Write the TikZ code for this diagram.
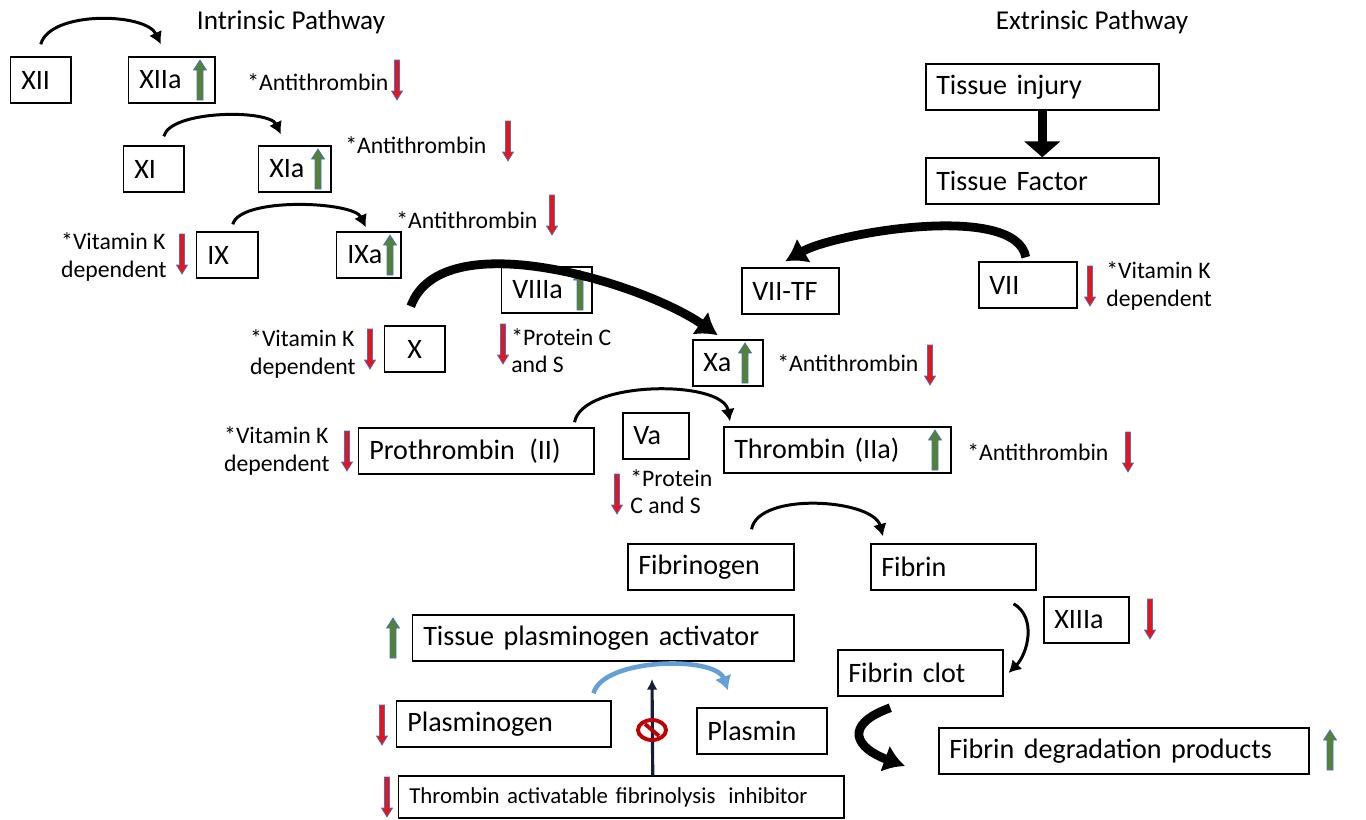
\documentclass[tikz,border=0pt]{standalone}
\usepackage{fontspec}
\setmainfont{Carlito}
\usetikzlibrary{arrows.meta}
\definecolor{markred}{RGB}{232,20,27}
\definecolor{markgreen}{RGB}{84,130,53}
\definecolor{markblue}{RGB}{68,114,196}
\definecolor{plasblue}{RGB}{100,160,215}
\definecolor{navy}{RGB}{20,30,60}
\definecolor{stopred}{RGB}{192,0,0}
\tikzset{
  downmark/.pic={\filldraw[fill=markred,draw=markblue,line width=0.4pt]
    (-2.5,-20)--(2.5,-20)--(2.5,11)--(5.5,11)--(0,20)--(-5.5,11)--(-2.5,11)--cycle;},
  upmark/.pic={\filldraw[fill=markgreen,draw=markblue,line width=0.4pt]
    (-3,20)--(3,20)--(3,-10)--(6.5,-10)--(0,-20)--(-6.5,-10)--(-3,-10)--cycle;}
}
\begin{document}
\begin{tikzpicture}[x=0.02cm,y=-0.02cm,>=latex,
  box/.style={draw,line width=0.85pt,anchor=west,minimum height=0.92cm,inner xsep=6pt,
    inner ysep=0pt,align=left,font=\fontsize{16}{19}\selectfont,text width=#1},
  note/.style={align=left,font=\fontsize{13.5}{15.5}\selectfont,inner sep=0pt},
  title/.style={font=\fontsize{15.5}{18}\selectfont},
  flow/.style={line width=1.7pt,-{Latex[length=7pt,width=8pt]}},
  bigflow/.style={line width=5pt,-{Latex[length=12pt,width=16pt]}}]
\useasboundingbox (0,0) rectangle (1366,819);

\node[title] (intr) at (291,22) {Intrinsic Pathway};
\node[title] (extr) at (1092,22) {Extrinsic Pathway};

% intrinsic side
\node[box=0.78cm] (XII) at (10,80) {XII};
\node[box=1.30cm] (XIIa) at (128,80) {XIIa};
\node[box=0.78cm] (XI) at (123,169) {XI};
\node[box=1.02cm] (XIa) at (258,169) {XIa};
\node[box=0.80cm] (IX) at (196,255) {IX};
\node[box=0.86cm] (IXa) at (336,255) {IXa};
\node[box=1.38cm] (VIIIa) at (501,290) {VIIIa};
\node[box=0.78cm,align=center] (X) at (384,349) {X};
\node[box=0.98cm] (Xa) at (692,363) {Xa};
\node[box=4.28cm] (pro) at (358,451) {Prothrombin\hspace{3pt} (II)};
\node[box=0.90cm] (Va) at (622,436) {Va};
\node[box=4.12cm] (thr) at (723,450) {Thrombin (IIa)};
\node[box=2.90cm] (fgen) at (627,567) {Fibrinogen};
\node[box=2.88cm] (fib) at (870,567) {Fibrin};
\node[box=1.28cm] (XIIIa) at (1043,620) {XIIIa};
\node[box=2.88cm] (clot) at (837,673) {Fibrin clot};
\node[box=6.98cm] (fdp) at (938,751) {Fibrin degradation products};
\node[box=7.20cm] (tpa) at (412,638) {Tissue plasminogen activator};
\node[box=3.86cm] (plg) at (396,724) {Plasminogen};
\node[box=2.18cm] (pls) at (696,731) {Plasmin};
\node[box=8.48cm,minimum height=0.84cm,font=\fontsize{13}{15}\selectfont] (tafi) at (398,797)
  {Thrombin activatable fibrinolysis\hspace{3pt} inhibitor};

% extrinsic side
\node[box=4.24cm] (injury) at (925,87) {Tissue injury};
\node[box=4.24cm] (tf) at (925,181) {Tissue Factor};
\node[box=1.52cm] (VIITF) at (741,291) {VII-TF};
\node[box=1.54cm] (VII) at (978,285) {VII};

% notes
\foreach \nx/\ny/\nname in {247/82/at1,345/145/at2,396/220/at3,777/363/at4,967/452/at5}
  \node[note,anchor=west] (\nname) at (\nx,\ny) {*Antithrombin};
\foreach \nx/\ny/\nname in {167/257/vk1,356/354/vk2,330/451/vk3}
  \node[note,anchor=east] (\nname) at (\nx,\ny) {*Vitamin K\\dependent};
\node[note,anchor=west] (vk4) at (1106,286) {*Vitamin K\\dependent};
\node[note,anchor=west] (pcs1) at (511,351) {*Protein C\\and S};
\node[note,anchor=west] (pcs2) at (630,492) {*Protein\\C and S};

% up and down marks
\foreach \mx/\my in {200/80,318/169,390/255,580/290,745/363,935/450,1330/750,393/638}
  \pic at (\mx,\my) {upmark};
\foreach \mx/\my in {397/80,508/141,552/215,182/254,370/349,503/344,930/365,347/451,
  617/494,1128/452,1150/619,1090/286,382/725,387/797}
  \pic at (\mx,\my) {downmark};

% connectors
\draw[flow] ([yshift=0.24cm]XII.north) to[out=75,in=115,looseness=0.75]
  ([xshift=-0.22cm,yshift=0.24cm]XIIa.north);
\draw[flow] ([xshift=0.2cm,yshift=0.18cm]XI.north) to[out=75,in=115,looseness=0.6]
  ([xshift=-0.28cm,yshift=0.22cm]XIa.north);
\draw[flow] ([xshift=0.11cm,yshift=0.14cm]IX.north) to[out=75,in=115,looseness=0.55]
  ([xshift=-0.06cm,yshift=0.08cm]IXa.north);
\draw[bigflow] ([xshift=-0.08cm,yshift=0.38cm]X.north) to[out=70,in=145,looseness=0.75]
  ([xshift=-0.2cm,yshift=0.08cm]Xa.north);
\draw[flow] ([xshift=-0.4cm,yshift=0.1cm]pro.north east) to[out=80,in=100,looseness=0.7]
  ([xshift=0.14cm,yshift=0.1cm]thr.north west);
\draw[flow] ([xshift=-0.86cm,yshift=0.28cm]fgen.north east) to[out=80,in=105,looseness=0.75]
  ([xshift=0.26cm,yshift=0.14cm]fib.north west);
\draw[flow] ([xshift=-0.46cm,yshift=-0.26cm]fib.south east) to[out=-30,in=45]
  ([xshift=0.1cm]clot.east);
\draw[bigflow] ([xshift=-0.6cm,yshift=-0.22cm]clot.south) to[out=200,in=160,looseness=2.2]
  ([xshift=-0.66cm,yshift=-0.3cm]fdp.west);
\draw[line width=5pt,-{Triangle[length=9pt,width=20pt]}] (injury.south) -- (tf.north);
\draw[bigflow] ([xshift=-0.04cm,yshift=0.08cm]VII.north) to[out=100,in=30,looseness=0.6]
  ([xshift=-0.1cm,yshift=0.12cm]VIITF.north);
\draw[plasblue,line width=2.6pt,-{Latex[length=8pt,width=10pt]}]
  ([xshift=-0.36cm,yshift=0.14cm]plg.north east) to[out=75,in=110,looseness=0.7]
  ([xshift=0.64cm,yshift=0.34cm]pls.north west);
\coordinate (top) at (652,679);
\draw[navy,line width=1.8pt,-{Latex[length=6pt,width=6pt]}] ([xshift=0.63cm]tafi.north) -- (top);
\draw[stopred,line width=2.2pt] (652,730) ellipse [x radius=0.28cm,y radius=0.2cm];
\draw[stopred,line width=2.2pt] (645,724) -- (659,736);
\end{tikzpicture}
\end{document}
